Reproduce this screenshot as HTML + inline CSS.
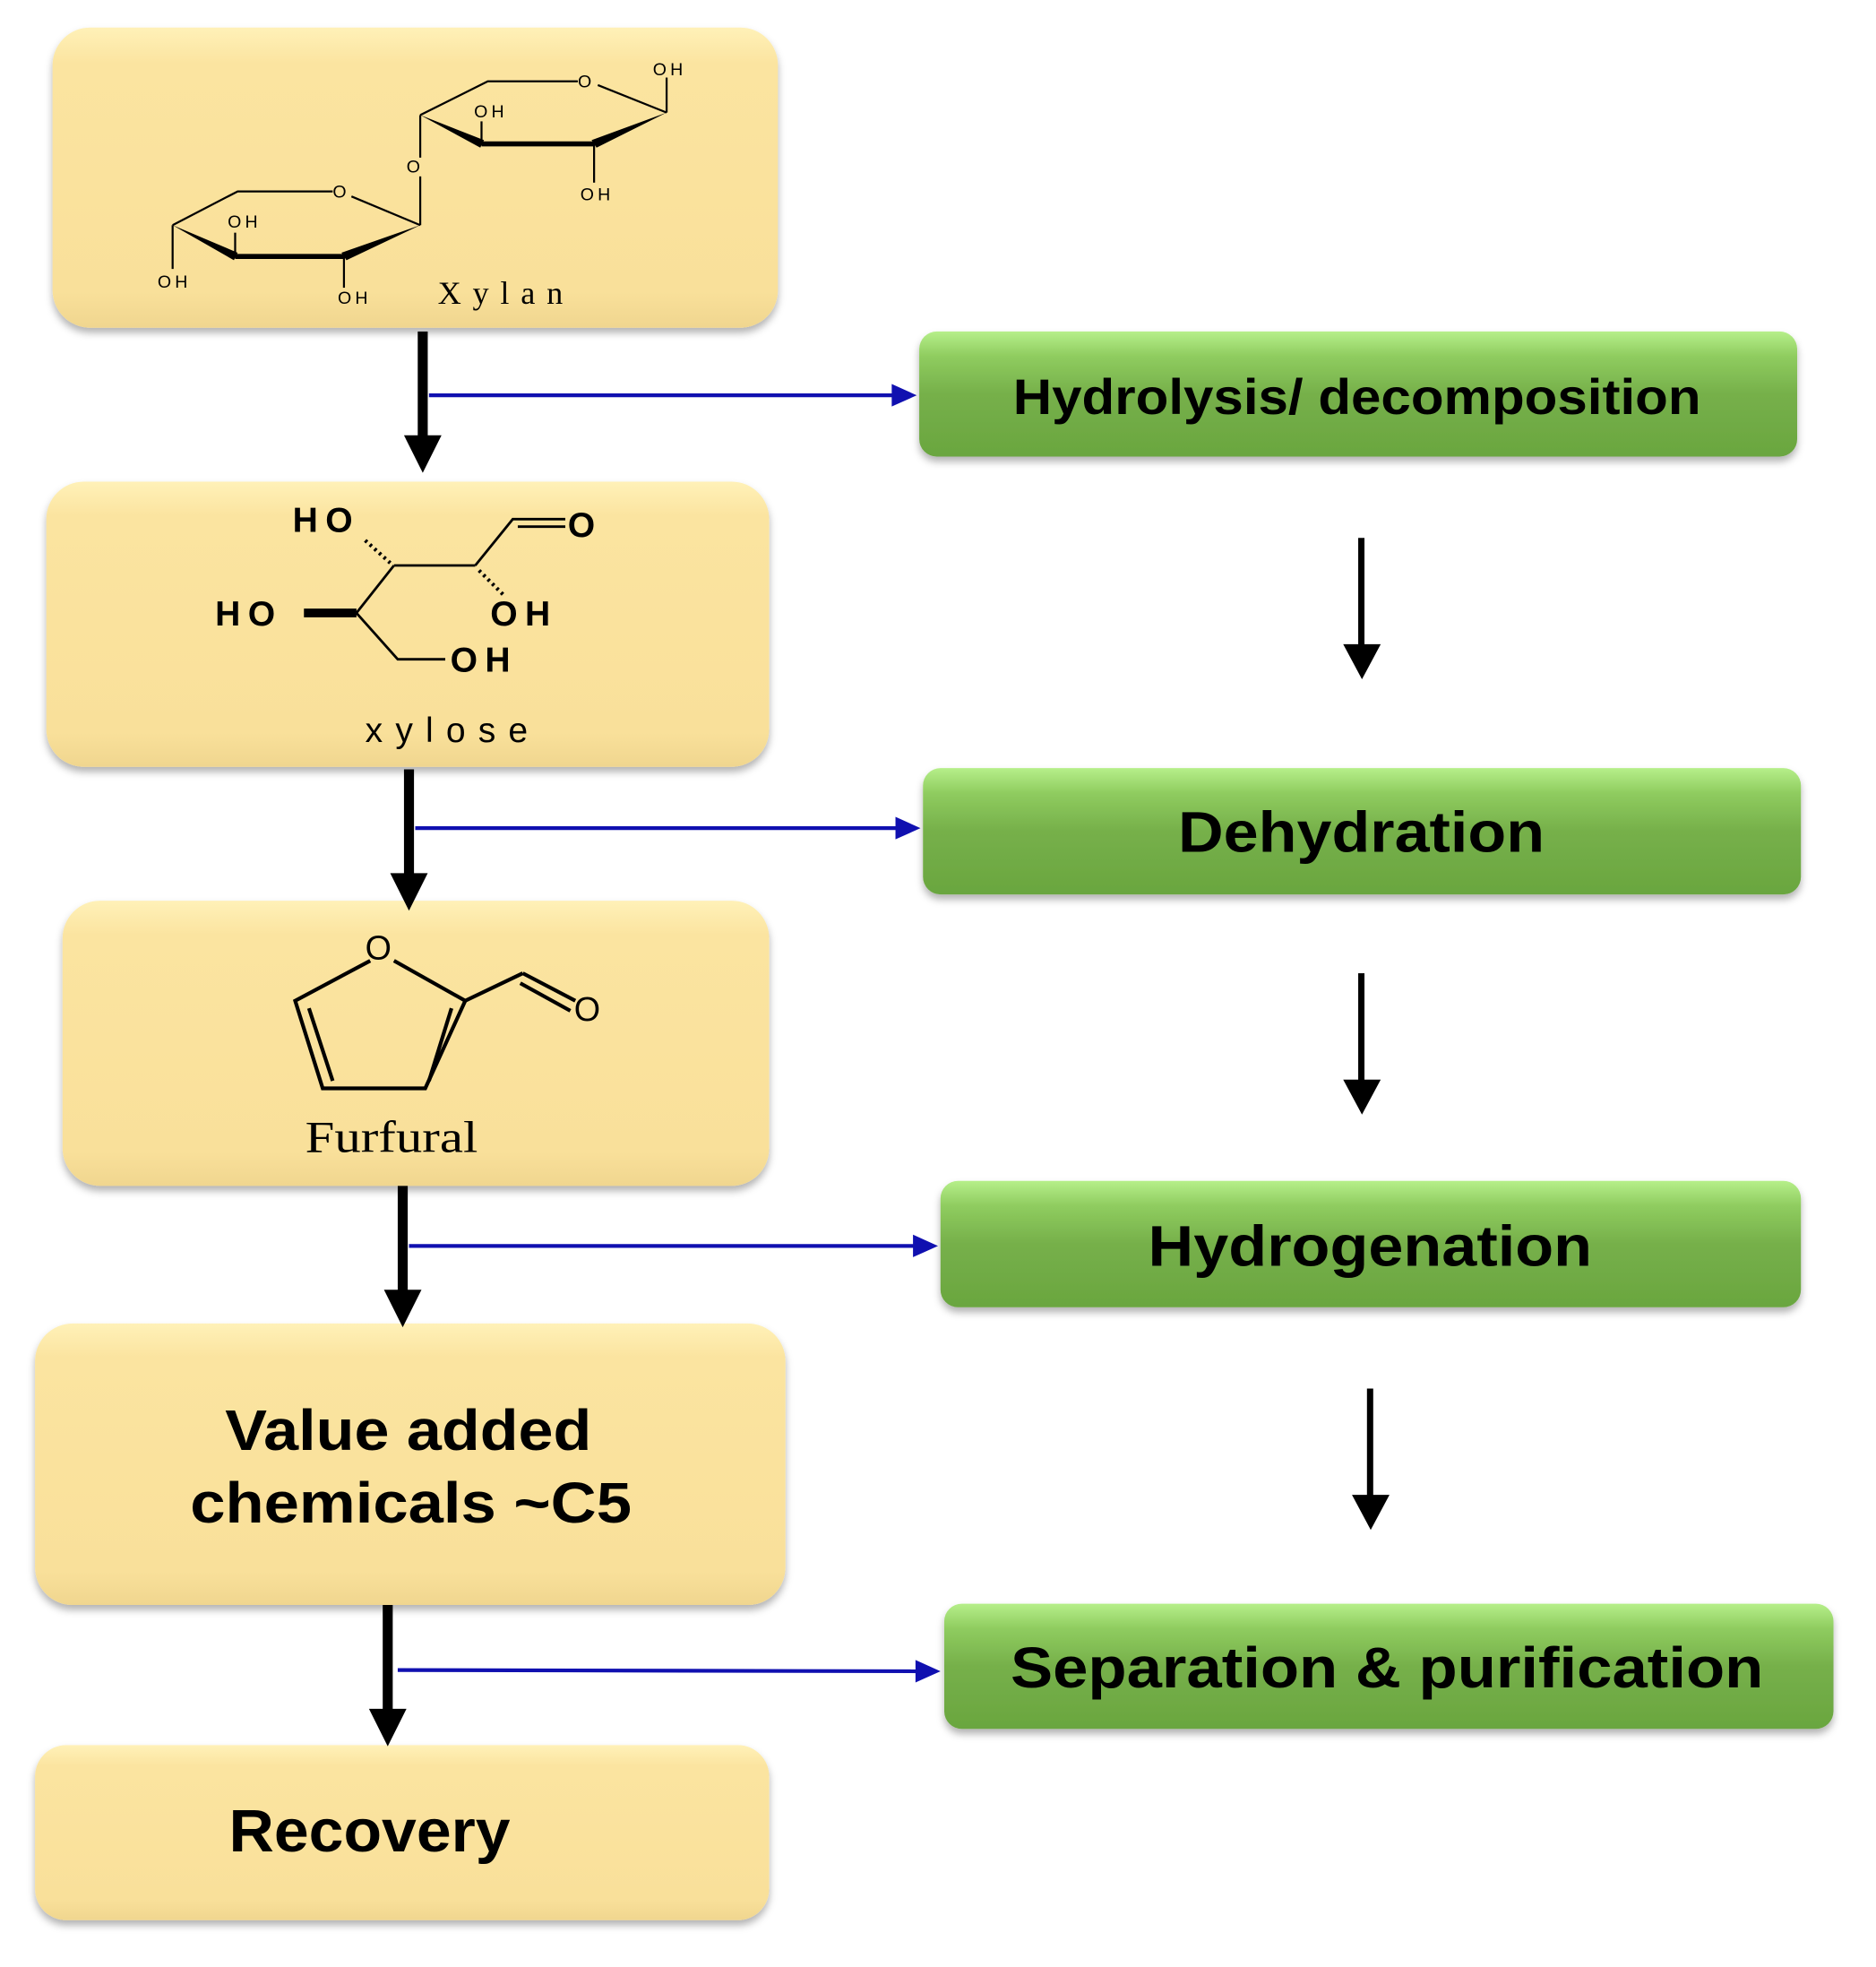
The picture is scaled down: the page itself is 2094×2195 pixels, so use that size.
<!DOCTYPE html>
<html><head><meta charset="utf-8"><style>html,body{margin:0;padding:0;background:#fff}svg{display:block}</style></head>
<body>
<svg width="2094" height="2195" viewBox="0 0 1500 1572.4" xmlns="http://www.w3.org/2000/svg">
<defs>
<linearGradient id="y" x1="0" y1="0" x2="0" y2="1">
<stop offset="0" stop-color="#fff1b8"/><stop offset="0.12" stop-color="#fbe4a0"/><stop offset="0.88" stop-color="#f9e09a"/><stop offset="1" stop-color="#f0d68f"/></linearGradient>
<linearGradient id="g" x1="0" y1="0" x2="0" y2="1">
<stop offset="0" stop-color="#b6ef8a"/><stop offset="0.2" stop-color="#8fcc5f"/><stop offset="0.5" stop-color="#76b04a"/><stop offset="1" stop-color="#6aa63f"/></linearGradient>
<filter id="sh" x="-5%" y="-5%" width="110%" height="120%"><feDropShadow dx="0" dy="4" stdDeviation="3" flood-color="#000" flood-opacity="0.3"/></filter>
</defs>
<g filter="url(#sh)">
<rect x="42" y="22" width="580" height="240" rx="30" fill="url(#y)"/>
<rect x="37" y="385" width="578" height="228" rx="30" fill="url(#y)"/>
<rect x="50" y="720" width="565" height="228" rx="30" fill="url(#y)"/>
<rect x="28" y="1058" width="600" height="225" rx="30" fill="url(#y)"/>
<rect x="28" y="1395" width="587" height="140" rx="25" fill="url(#y)"/>
<rect x="735" y="265" width="702" height="100" rx="14" fill="url(#g)"/>
<rect x="738" y="614" width="702" height="101" rx="14" fill="url(#g)"/>
<rect x="752" y="944" width="688" height="101" rx="14" fill="url(#g)"/>
<rect x="755" y="1282" width="711" height="100" rx="14" fill="url(#g)"/>
</g>
<g font-family="Liberation Sans, Arial, sans-serif" font-weight="bold" fill="#000">
<text x="810" y="331" font-size="40" textLength="550" lengthAdjust="spacingAndGlyphs">Hydrolysis/ decomposition</text>
<text x="942" y="681" font-size="46" textLength="293" lengthAdjust="spacingAndGlyphs">Dehydration</text>
<text x="918" y="1012" font-size="46" textLength="355" lengthAdjust="spacingAndGlyphs">Hydrogenation</text>
<text x="808" y="1349" font-size="46" textLength="602" lengthAdjust="spacingAndGlyphs">Separation &amp; purification</text>
<text x="180" y="1159" font-size="46" textLength="293" lengthAdjust="spacingAndGlyphs">Value added</text>
<text x="152" y="1217" font-size="46" textLength="353" lengthAdjust="spacingAndGlyphs">chemicals ~C5</text>
<text x="183" y="1480" font-size="48" textLength="225" lengthAdjust="spacingAndGlyphs">Recovery</text>
</g>
<g stroke="#1010b0" stroke-width="3" fill="#1010b0">
<line x1="343" y1="316" x2="718" y2="316"/><polygon points="733,316 713,307 713,325" stroke="none"/>
<line x1="332" y1="662" x2="721" y2="662"/><polygon points="736,662 716,653 716,671" stroke="none"/>
<line x1="327" y1="996" x2="735" y2="996"/><polygon points="750,996 730,987 730,1005" stroke="none"/>
<line x1="318" y1="1335" x2="737" y2="1336"/><polygon points="752,1336 732,1327 732,1345" stroke="none"/>
</g>
<g fill="#000">
<rect x="334" y="265" width="8" height="85"/><polygon points="323,348 353,348 338,378"/>
<rect x="323" y="615" width="8" height="85"/><polygon points="312,698 342,698 327,728"/>
<rect x="318" y="948" width="8" height="85"/><polygon points="307,1031 337,1031 322,1061"/>
<rect x="306" y="1283" width="8" height="85"/><polygon points="295,1366 325,1366 310,1396"/>
<rect x="1086" y="430" width="5" height="88"/><polygon points="1074,515 1104,515 1089,543"/>
<rect x="1086" y="778" width="5" height="88"/><polygon points="1074,863 1104,863 1089,891"/>
<rect x="1093" y="1110" width="5" height="88"/><polygon points="1081,1195 1111,1195 1096,1223"/>
</g>
<g stroke="#000" stroke-width="1.6" fill="none">
<polyline points="336,92 390,65 462,65"/><line x1="478" y1="68" x2="533" y2="90"/><line x1="533" y1="90" x2="533" y2="62"/>
<line x1="385" y1="115" x2="475" y2="115" stroke-width="4"/>
<line x1="385" y1="115" x2="385" y2="97"/><line x1="475" y1="115" x2="475" y2="146"/>
<line x1="336" y1="92" x2="336" y2="126"/><line x1="336" y1="141" x2="336" y2="180"/>
<polyline points="138,180 190,153 266,153"/><line x1="281" y1="157" x2="336" y2="180"/>
<line x1="188" y1="205" x2="275" y2="205" stroke-width="4"/>
<line x1="188" y1="205" x2="188" y2="186"/><line x1="138" y1="180" x2="138" y2="215"/><line x1="275" y1="205" x2="275" y2="230"/>
</g>
<g fill="#000">
<polygon points="336,92 387,112 384,118"/><polygon points="533,90 473,112 477,118"/>
<polygon points="138,180 190,202 187,208"/><polygon points="336,180 273,202 277,208"/>
</g>
<g font-family="Liberation Sans, Arial, sans-serif" font-size="14" fill="#000" letter-spacing="3">
<text x="462" y="70">O</text><text x="522" y="60">OH</text><text x="379" y="94">OH</text><text x="464" y="160">OH</text>
<text x="325" y="138">O</text><text x="266" y="158">O</text><text x="182" y="182">OH</text><text x="126" y="230">OH</text><text x="270" y="243">OH</text>
</g>
<text x="350" y="243" font-family="Liberation Serif, serif" font-size="26" textLength="100" fill="#000">Xylan</text>
<g font-family="Liberation Sans, Arial, sans-serif" font-weight="bold" font-size="28" fill="#000" letter-spacing="6">
<text x="234" y="425">HO</text><text x="172" y="500">HO</text><text x="392" y="500">OH</text><text x="360" y="537">OH</text><text x="454" y="429">O</text>
</g>
<g stroke="#000" stroke-width="2" fill="none">
<line x1="315" y1="452" x2="380" y2="452"/><polyline points="380,452 410,415 452,415"/><line x1="414" y1="421" x2="452" y2="421"/>
<line x1="285" y1="490" x2="315" y2="452"/><polyline points="285,490 318,527 356,527"/>
<line x1="243" y1="490" x2="285" y2="490" stroke-width="7"/>
<line x1="292" y1="432" x2="312" y2="450" stroke-dasharray="2,3" stroke-width="3"/>
<line x1="383" y1="456" x2="403" y2="476" stroke-dasharray="2,3" stroke-width="3"/>
</g>
<text x="292" y="593" font-family="Liberation Sans, Arial, sans-serif" font-size="28" textLength="130" fill="#000">xylose</text>
<g stroke="#000" stroke-width="3" fill="none">
<polyline points="296,768 236,800 258,870 340,870 372,800 315,768"/>
<line x1="247" y1="806" x2="266" y2="864"/><line x1="361" y1="806" x2="343" y2="864"/>
<line x1="372" y1="800" x2="418" y2="778"/><line x1="418" y1="778" x2="460" y2="800"/><line x1="416" y1="786" x2="456" y2="808"/>
</g>
<g font-family="Liberation Sans, Arial, sans-serif" font-size="27" fill="#000">
<text x="292" y="767">O</text><text x="459" y="816">O</text>
</g>
<text x="244" y="921" font-family="Liberation Serif, serif" font-size="36" textLength="138" lengthAdjust="spacingAndGlyphs" fill="#000">Furfural</text>
</svg>
</body></html>
